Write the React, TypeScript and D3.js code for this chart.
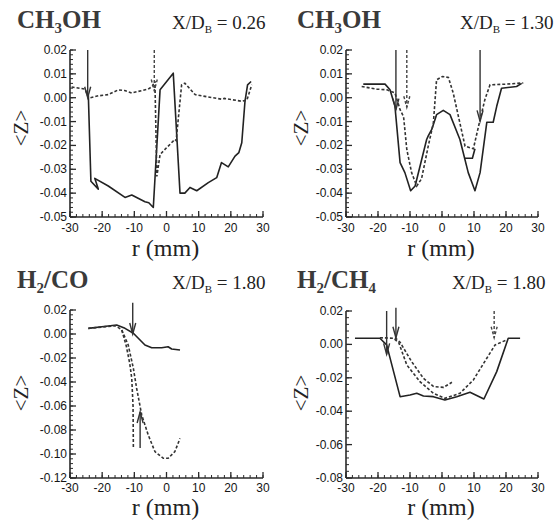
import React from "react";
import * as d3 from "d3";

type P = [number, number];

// ---------- data ----------
const xTicks = [-30, -20, -10, 0, 10, 20, 30];
const yTicksTop = [0.02, 0.01, 0, -0.01, -0.02, -0.03, -0.04, -0.05];
const yTicksCO = [0.02, 0, -0.02, -0.04, -0.06, -0.08, -0.1, -0.12];
const yTicksCH4 = [0.02, 0, -0.02, -0.04, -0.06, -0.08];

const a_solid: P[] = [[-24.3, 0.001], [-23.5, -0.035], [-21.2, -0.0383], [-22.3, -0.0338], [-18.1, -0.037], [-12.9, -0.0418], [-10.8, -0.0408], [-6.7, -0.0436], [-5.5, -0.044], [-4.1, -0.046], [-2.0, 0.0033], [2.1, 0.0103], [4.2, -0.04], [5.7, -0.04], [7.3, -0.0376], [9.4, -0.039], [13.0, -0.0356], [15.6, -0.0335], [17.1, -0.0272], [19.2, -0.029], [21.3, -0.0245], [22.5, -0.023], [23.4, -0.0189], [24.4, -0.0015], [25.2, 0.0054], [26.3, 0.0068]];
const a_dashed: P[] = [[-29.5, 0.0045], [-25.3, 0.0036], [-24.3, 0.0], [-23.8, -0.0001], [-21.2, 0.0008], [-18.1, 0.0013], [-15.0, 0.0033], [-13, 0.003], [-10.8, 0.002], [-5.7, 0.0036], [-4.4, 0.0047], [-3.6, 0.007], [-3.0, -0.033], [-2.0, -0.0238], [0, -0.021], [2.6, -0.0175], [3.0, -0.018], [4.7, 0.0054], [5.7, 0.0061], [8.9, 0.0013], [13.0, 0.0003], [17.1, -0.0006], [18, -0.0003], [23.4, -0.0015], [25.0, -0.001], [26.5, 0.0054]];

const b_solid: P[] = [[-24.6, 0.0057], [-17.8, 0.0057], [-16.25, 0.0033], [-14.7, -0.0036], [-13.1, -0.0272], [-11.6, -0.0314], [-9.8, -0.039], [-8.4, -0.037], [-4.8, -0.0175], [-4.3, -0.016], [-3.2, -0.0133], [-1.7, -0.0071], [0.4, -0.0053], [2.5, -0.0071], [5.6, -0.0175], [8.2, -0.0314], [10.3, -0.039], [11.9, -0.0314], [14.0, -0.0103], [16.0, -0.0103], [17.1, -0.0036], [18.6, 0.004], [23.3, 0.0047], [24.9, 0.006]];
const b_dashed: P[] = [[-25.1, 0.0047], [-20.4, 0.0036], [-17.2, 0.0033], [-14.7, 0.002], [-13.1, -0.005], [-12, -0.008], [-11.0, -0.0217], [-9.5, -0.0314], [-7.9, -0.037], [-6.4, -0.034], [-4.3, -0.0203], [-2.7, -0.0106], [-1.7, 0.0075], [0.1, 0.0089], [2.0, 0.0085], [3.5, 0.002], [7.2, -0.0203], [9.8, -0.0214], [11.9, -0.0092], [13.4, -0.0008], [15.0, 0.0054], [20.2, 0.0057], [25.4, 0.0062]];
const b_step: P[] = [[7.0, -0.0254], [9.5, -0.0254], [10.3, -0.0214]];

const c_solid: P[] = [[-24.3, 0.0047], [-20.1, 0.0061], [-15.5, 0.0075], [-12.9, 0.0047], [-10.3, 0.0006], [-6.7, -0.0092], [-4.6, -0.0114], [-1.5, -0.0114], [0.5, -0.0106], [1.6, -0.0125], [4.2, -0.0133]];
const c_dashedA: P[] = [[-24.3, 0.0047], [-15.8, 0.0069], [-13.9, 0.0033], [-11.9, -0.0092], [-10.3, -0.0286], [-9.3, -0.045], [-7.7, -0.0675], [-5.7, -0.084], [-3.6, -0.098], [-1.0, -0.1036], [0.5, -0.1036], [2.6, -0.098], [4.2, -0.087]];
const c_dashedB: P[] = [[-13.9, 0.0033], [-12.5, -0.01], [-11.4, -0.025], [-10.8, -0.037], [-10.4, -0.06], [-10.3, -0.095]];

const d_solid: P[] = [[-27.2, 0.0037], [-19.4, 0.0037], [-17.3, -0.0003], [-13.1, -0.0313], [-10.0, -0.0303], [-7.9, -0.0293], [-5.8, -0.0309], [-2.7, -0.0313], [0.9, -0.0333], [4.6, -0.0313], [8.75, -0.0287], [13.1, -0.0327], [17.1, -0.0163], [20.7, 0.0037], [24.4, 0.0037]];
const d_dashed1: P[] = [[-19.4, 0.004], [-15.2, 0.0037], [-13.5, 0.001], [-11.0, -0.0123], [-6.9, -0.0223], [-2.7, -0.0293], [0.9, -0.0323], [5.6, -0.0293], [9.8, -0.0213], [14.0, -0.0083], [16.6, -0.0003], [20.2, 0.0027]];
const d_dashed2: P[] = [[-14.7, 0.004], [-13.1, 0.0013], [-9.5, -0.0103], [-5.8, -0.0203], [-2.6, -0.0253], [0.5, -0.0257], [3.1, -0.0227]];

// arrows: [r, from, to(tip), dashed?]
type Arrow = [number, number, number, boolean];
const a_arrows: Arrow[] = [[-24.5, 0.02, 0.0, false], [-3.8, 0.02, 0.003, true]];
const b_arrows: Arrow[] = [[-14.4, 0.02, -0.005, false], [-11.0, 0.02, -0.004, true], [11.9, 0.02, -0.0099, false]];
const c_arrows: Arrow[] = [[-10.5, 0.026, 0.0, false], [-8.2, -0.095, -0.065, false]];
const d_arrows: Arrow[] = [[-17.3, 0.02, -0.006, false], [-14.4, 0.022, 0.004, false], [16.3, 0.02, 0.004, true]];

type Panel = {
  x0: number; x1: number; yTop: number; yBot: number;
  ydom: [number, number]; yTicks: number[]; yMinor: number;
  title: string[]; ratio: string;
  solid: P[][]; dashed: P[][]; arrows: Arrow[];
  titleY: number; titleX: number; ratioX: number; tickY: number; labelY: number; zY: number; zX: number;
};

const panels: Panel[] = [
  { x0: 70, x1: 263, yTop: 50, yBot: 217, ydom: [-0.05, 0.02], yTicks: yTicksTop, yMinor: 0.002,
    title: ["CH", "3", "OH"], ratio: "0.26", solid: [a_solid], dashed: [a_dashed], arrows: a_arrows,
    titleY: 28, titleX: 17, ratioX: 172, tickY: 232, labelY: 256, zY: 128, zX: 28 },
  { x0: 346, x1: 538, yTop: 50, yBot: 217, ydom: [-0.05, 0.02], yTicks: yTicksTop, yMinor: 0.002,
    title: ["CH", "3", "OH"], ratio: "1.30", solid: [b_solid, b_step], dashed: [b_dashed], arrows: b_arrows,
    titleY: 28, titleX: 297, ratioX: 460, tickY: 232, labelY: 256, zY: 128, zX: 308 },
  { x0: 70, x1: 263, yTop: 310, yBot: 478, ydom: [-0.12, 0.02], yTicks: yTicksCO, yMinor: 0.004,
    title: ["H", "2", "/CO"], ratio: "1.80", solid: [c_solid], dashed: [c_dashedA, c_dashedB], arrows: c_arrows,
    titleY: 288, titleX: 17, ratioX: 172, tickY: 492, labelY: 515, zY: 393, zX: 28 },
  { x0: 346, x1: 538, yTop: 311, yBot: 478, ydom: [-0.08, 0.02], yTicks: yTicksCH4, yMinor: 0.004,
    title: ["H", "2", "/CH", "4"], ratio: "1.80", solid: [d_solid], dashed: [d_dashed1, d_dashed2], arrows: d_arrows,
    titleY: 288, titleX: 297, ratioX: 452, tickY: 492, labelY: 515, zY: 393, zX: 308 },
];

const INK = "#2a2a2a";

function PanelView({ p }: { p: Panel }) {
  const x = d3.scaleLinear().domain([-30, 30]).range([p.x0, p.x1]);
  const y = d3.scaleLinear().domain(p.ydom).range([p.yBot, p.yTop]);
  const line = d3.line<P>().x((d) => x(d[0])).y((d) => y(d[1]));
  const xMinor = d3.range(-30, 30.001, 2);
  const nMinor = Math.round((p.ydom[1] - p.ydom[0]) / p.yMinor);
  const yMinor = d3.range(0, nMinor + 1).map((i) => p.ydom[0] + i * p.yMinor);
  const tf = "'Liberation Sans', Arial, sans-serif";
  const sf = "'Liberation Serif', 'Times New Roman', serif";
  return (
    <g>
      {/* title */}
      <text x={p.titleX} y={p.titleY} fontFamily={sf} fontWeight="bold" fontSize={25} fill="#3a3a3a">
        {p.title.map((s, i) =>
          i % 2 === 1 ? (
            <tspan key={i} fontSize={15} dy={5}>{s}</tspan>
          ) : (
            <tspan key={i} dy={i === 0 ? 0 : -5}>{s}</tspan>
          )
        )}
      </text>
      <text x={p.ratioX} y={p.titleY + 1} fontFamily={sf} fontSize={19} fill="#222">
        X/D<tspan fontSize={11} dy={4}>B</tspan>
        <tspan dy={-4}> = {p.ratio}</tspan>
      </text>
      {/* axes */}
      <line x1={p.x0} x2={p.x0} y1={p.yTop} y2={p.yBot} stroke={INK} strokeWidth={1.6} />
      <line x1={p.x0} x2={p.x1} y1={p.yBot} y2={p.yBot} stroke={INK} strokeWidth={1.6} />
      {xMinor.map((v) => (
        <line key={"xm" + v} x1={x(v)} x2={x(v)} y1={p.yBot} y2={p.yBot - 3} stroke={INK} strokeWidth={1} />
      ))}
      {xTicks.map((v) => (
        <g key={"xt" + v}>
          <line x1={x(v)} x2={x(v)} y1={p.yBot} y2={p.yBot - 6} stroke={INK} strokeWidth={1.3} />
          <text x={x(v)} y={p.tickY} textAnchor="middle" fontFamily={tf} fontSize={12} fill="#151515">{v}</text>
        </g>
      ))}
      {yMinor.map((v, i) => (
        <line key={"ym" + i} x1={p.x0} x2={p.x0 + 3} y1={y(v)} y2={y(v)} stroke={INK} strokeWidth={1} />
      ))}
      {p.yTicks.map((v) => (
        <g key={"yt" + v}>
          <line x1={p.x0} x2={p.x0 + 6} y1={y(v)} y2={y(v)} stroke={INK} strokeWidth={1.3} />
          <text x={p.x0 - 3} y={y(v) + 4} textAnchor="end" fontFamily={tf} fontSize={12} fill="#151515">
            {v.toFixed(2)}
          </text>
        </g>
      ))}
      <text x={(p.x0 + p.x1) / 2 - 1} y={p.labelY} textAnchor="middle" fontFamily={sf} fontSize={24} fill="#222">r (mm)</text>
      <text transform={`translate(${p.zX},${p.zY}) rotate(-90)`} textAnchor="middle" fontFamily={sf} fontSize={21} fill="#222">{"<Z>"}</text>
      {/* data */}
      {p.solid.map((s, i) => (
        <path key={"s" + i} d={line(s) || ""} fill="none" stroke="#222" strokeWidth={1.6} strokeLinejoin="round" />
      ))}
      {p.dashed.map((s, i) => (
        <path key={"d" + i} d={line(s) || ""} fill="none" stroke="#333" strokeWidth={1.6} strokeDasharray="3,2" />
      ))}
      {p.arrows.map((a, i) => {
        const ax = x(a[0]);
        const yf = y(a[1]);
        const yt = y(a[2]);
        const dir = yt > yf ? -1 : 1;
        const st = a[3] ? "3,2" : undefined;
        return (
          <g key={"a" + i} stroke={a[3] ? "#444" : "#333"} strokeWidth={1.4} fill="none">
            <line x1={ax} x2={ax} y1={yf} y2={yt} strokeDasharray={st} />
            <path d={`M${ax - 3},${yt + dir * 11} L${ax},${yt} L${ax + 3},${yt + dir * 11}`} strokeDasharray={st} />
          </g>
        );
      })}
    </g>
  );
}

export default function App() {
  return (
    <svg width={559} height={522} style={{ display: "block", position: "absolute", left: 0, top: 0, background: "#fff" }}>
      {panels.map((p, i) => (
        <PanelView key={i} p={p} />
      ))}
    </svg>
  );
}
